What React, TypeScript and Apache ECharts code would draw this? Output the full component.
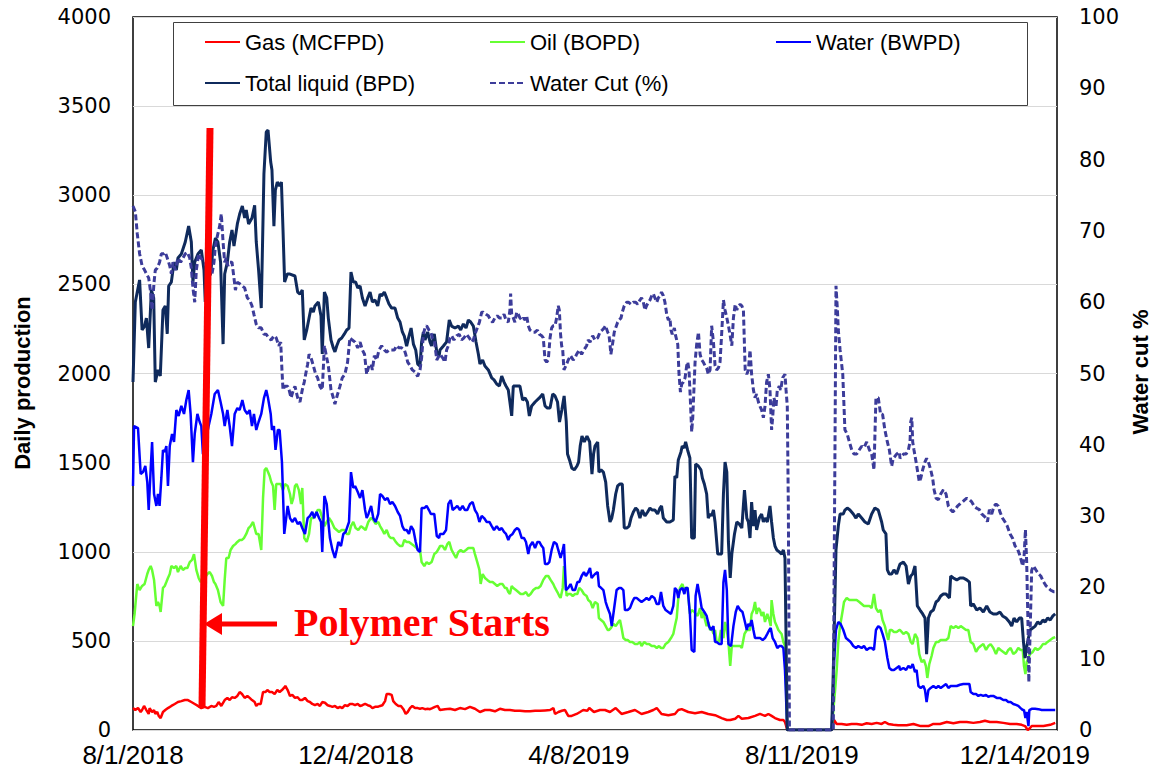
import React, { useEffect, useRef } from "react";
import * as echarts from "echarts";

// x = days since 8/1/2018
const startDate = Date.UTC(2018, 7, 1);
const xMax = 518;
const xInterval = 125;

const legendNames = ["Gas (MCFPD)", "Oil (BOPD)", "Water (BWPD)", "Total liquid (BPD)", "Water Cut (%)"];

const totalLiquid: number[][] = [
[0,1952],[1.3,2401],[3.7,2525],[5.1,2244],[6.5,2266],[7.5,2311],[8.8,2143],[10.3,2468],[11.6,2424],[12.5,1952],[14,2020],[15.3,1986],[16.8,2356],[18.1,2379],[19.2,2222],[20,2491],[21.5,2513],[23,2625],[24.3,2581],[25.2,2648],[27.1,2670],[29.3,2738],[31.2,2827],[32.7,2738],[33.6,2513],[34.6,2625],[36.4,2670],[38.3,2693],[39.8,2581],[40.5,2401],[42,2536],[43.5,2558],[44.8,2693],[46.2,2760],[47.6,2738],[49.1,2625],[50.5,2165],[51.4,2558],[52.9,2625],[54.2,2738],[55.5,2805],[56.6,2715],[58.5,2839],[59.8,2895],[61.3,2940],[62.6,2872],[63.5,2917],[64.8,2839],[66.7,2872],[68.2,2944],[69.1,2738],[70.4,2581],[71.9,2367],[73.4,3119],[74.7,3355],[75.7,3366],[77.2,3186],[77.9,3142],[79,2827],[79.8,3029],[80.9,3074],[82.2,3052],[83.2,3074],[84.1,2805],[85,2513],
[86.5,2558],[88,2558],[90.8,2547],[92.3,2457],[93.6,2446],[94.9,2468],[96,2188],[97.4,2244],[98.7,2311],[99.8,2367],[101.1,2345],[102,2379],[103.9,2401],[105.4,2323],[106.1,2109],[107.3,2457],[108.6,2424],[109.5,2311],[111,2188],[112.3,2143],[113.2,2121],[114.2,2154],[115.5,2188],[117,2199],[118.5,2222],[119.8,2244],[121.1,2255],[122.2,2569],[123.5,2513],[124.8,2513],[126,2480],[127.3,2491],[128.6,2424],[130.1,2379],[131.6,2424],[132.9,2457],[134.2,2401],[135.7,2412],[137.2,2379],[138.5,2446],[139.4,2435],[140.9,2457],[142.2,2424],[143.5,2390],[145,2367],[146.9,2367],[148.4,2311],[149.7,2289],[151,2233],[152.1,2210],[153.4,2154],[154.7,2210],[155.9,2255],[157.2,2165],[158.5,2132],[159.6,2053],[160.9,2042],[161.8,2177],[162.8,2233],[163.7,2188],[165.2,2233],[166.5,2177],[167.4,2154],[168.9,2222],[170.3,2121],[171.6,2098],
[172.1,2132],[174,2154],[175.8,2177],[177.3,2300],[178.6,2266],[180.5,2255],[182.4,2266],[183.7,2244],[185.2,2278],[186.7,2255],[188,2300],[189.3,2289],[190.8,2266],[192.3,2177],[193.6,2109],[194.5,2053],[196,2076],[197.3,2042],[199.2,2020],[201.1,1975],[202.4,1964],[203.9,1941],[205.4,1930],[206.7,1986],[208,1952],[209.1,1930],[210.4,1907],[211.3,1840],[212.3,1762],[213.2,1930],[214.7,1930],[216.9,1930],[218.4,1851],[219.8,1863],[221.1,1840],[222.2,1762],[223.5,1818],[225.4,1840],[227.8,1863],[229.7,1885],[231,1818],[232.3,1806],[233.8,1806],[235.3,1885],[236.6,1874],[238,1840],[239.1,1728],[240.4,1795],[241.7,1874],[242.9,1728],[243.6,1548],[244.7,1515],[246,1470],[247.4,1459],[248.9,1481],[249.8,1503],[250.7,1593],[251.7,1649],[253,1616],[254.5,1649],[256,1616],[257.3,1436],[258.2,1548],
[259,1593],[260.5,1616],[261.2,1447],[262.4,1459],[263.7,1447],[265,1391],[266.1,1257],[267.4,1167],[268.4,1189],[269.3,1234],[270.6,1324],[271.7,1369],[273,1380],[274.3,1380],[275.4,1133],[276.8,1133],[278.1,1144],[279.2,1189],[280.5,1223],[281.8,1245],[282.9,1234],[284.2,1189],[285.5,1234],[287,1201],[288.5,1223],[289.8,1245],[291.1,1234],[292.6,1234],[294.1,1212],[295.4,1245],[296.3,1257],[297.3,1189],[299.2,1167],[301,1167],[302.9,1178],[303.8,1425],[304.8,1414],[305.7,1515],[307.2,1560],[307.9,1593],[309,1582],[309.8,1616],[310.9,1571],[312.2,1526],[313.2,1077],[314.7,1077],[315.4,1492],[316.9,1481],[318.4,1459],[319.2,1414],[320.3,1380],[321.6,1324],[322.5,1189],[323.5,1212],[324.4,1201],[325.4,1234],[326.3,1167],[327.8,987],[330,987],[331,1324],[331.9,1503],[332.9,1447],[333.8,1055],[334.8,853],[335.7,987],[337.2,1100],[338.5,1167],[339.8,1156],[341.3,1133],[342.8,1346],[344.1,1189],[345,1167],
[345.9,1077],[346.8,1279],[347.8,1144],[348.7,1234],[349.6,1122],[351.1,1189],[352.4,1212],[353.4,1167],[354.3,1189],[355.6,1167],[357.1,1257],[358,1167],[359,1077],[359.9,1032],[360.9,1010],[362.3,999],[363.6,987],[364.6,1010],[365.5,965],[366.8,0],[391.7,0],[392.6,337],[394.1,1010],[395.4,1144],[396.4,1212],[398.2,1212],[399.1,1234],[400.4,1245],[401.9,1234],[403.8,1212],[405.3,1189],[406.6,1212],[408.5,1189],[410.3,1167],[412.2,1156],[414.1,1212],[415.9,1245],[417.8,1234],[419.7,1167],[420.6,1122],[422.1,1100],[422.9,898],[424,875],[425.3,875],[426.6,898],[428.1,875],[429.6,920],
[430,931],[431.9,942],[433.4,920],[434.7,819],[436,864],[437.1,875],[438.4,920],[439.7,696],[441.2,673],[442.7,651],[444,628],[444.9,426],[445.9,628],[447.2,662],[448.7,673],[450.2,718],[451.5,729],[452.8,752],[454.3,763],[455.8,763],[457.7,741],[458.4,864],[459.9,853],[461.8,842],[463.6,853],[465.5,853],[467.4,842],[468.9,830],[469.6,696],[471.1,707],[473,673],[474.8,684],[476.7,662],[478.6,696],[480.4,662],[482.3,651],[484.2,651],[486,662],[487.5,640],[489.4,628],[491.3,606],[492.6,583],[493.9,628],[495.4,606],[496.9,628],[498.2,628],[499.2,494],[500.1,404],[501.1,471],[502,516],[502.9,561],[504.4,572],[505.8,583],[507.1,606],[508.6,595],[510.1,617],[511.4,606],[512.7,628],[514.2,617],[515.7,640],[517,651]
];

const water: number[][] = [
[0,1369],[0.6,1705],[2.8,1694],[4.3,1436],[5.6,1447],[6.9,1481],[8,1391],[8.8,1234],[9.9,1459],[10.7,1616],[11.8,1324],[13.1,1257],[14,1324],[14.9,1257],[15.9,1414],[16.8,1571],[17.8,1560],[18.7,1593],[19.6,1369],[20.6,1593],[21.9,1661],[23,1616],[24.3,1795],[25.6,1762],[27.1,1818],[28.6,1773],[29.9,1851],[31.2,1907],[32.3,1773],[33.6,1503],[34.6,1661],[36.1,1773],[37.4,1728],[38.3,1705],[39.2,1548],[40.2,1683],[41.1,1638],[42.4,1705],[43.9,1773],[45.8,1885],[47.6,1907],[49.1,1840],[50.5,1773],[51.4,1705],[52.9,1795],[54.2,1705],[55.5,1593],[57,1773],[58.5,1806],[59.8,1795],[61.3,1851],[62.6,1795],[64.1,1773],[65.4,1795],[66.7,1705],[67.8,1773],[69.1,1683],[70.4,1728],[71.9,1773],[73.4,1862],[74.7,1907],[75.7,1862],[77.2,1773],[77.9,1683],[79,1705],[79.9,1571],[81.2,1683],[82.2,1683],[83.5,1503],[84.1,1324],[84.8,1100],
[86.7,1257],[88,1189],[89.3,1167],[90.8,1189],[92.3,1156],[93.6,1167],[94.9,1133],[96.4,1100],[97.9,1189],[99.2,1201],[100.5,1223],[101.6,1189],[102.9,1223],[104.3,1189],[105.4,1167],[106.1,999],[107.3,1313],[108.6,1268],[109.5,1167],[110.4,1077],[111.8,1010],[113.2,965],[114.2,1010],[115.1,1055],[116.6,1032],[117.9,1100],[119.2,1111],[120.3,1144],[121.1,1167],[122.2,1447],[123.5,1358],[124.5,1369],[126,1335],[127.3,1302],[128.6,1346],[130.1,1234],[131,1189],[132,1212],[133.5,1257],[134.7,1189],[136,1167],[137.5,1212],[138.5,1324],[139.8,1313],[141.3,1290],[142.7,1302],[144.1,1268],[145.4,1279],[146.9,1257],[148.4,1223],[149.7,1201],[151,1144],[152.1,1122],[153.4,1122],[154.7,1100],[155.9,1144],[157.2,1122],[158.5,1055],[159.6,1010],[160.9,999],[161.8,1245],[163.3,1245],[164.6,1257],[165.9,1234],[167,1212],[168.9,1212],[170.3,1088],[171.6,1077],
[172.1,1100],[174,1100],[175.5,1122],[176.8,1268],[178.1,1290],[179.2,1234],[180.5,1245],[181.8,1257],[183.3,1234],[184.8,1257],[186.1,1234],[187.4,1234],[188.9,1268],[190.4,1279],[191.7,1234],[193,1212],[194.2,1167],[195.5,1201],[196.8,1189],[198.3,1167],[199.8,1167],[201.1,1144],[202.4,1122],[203.9,1144],[205.4,1122],[206.7,1133],[208,1111],[209.1,1100],[210.4,1066],[211.3,1088],[212.8,1100],[214.1,1122],[215.4,1133],[216.5,1122],[217.9,1077],[219.2,1077],[220.3,1055],[221.6,987],[222.5,1032],[224,1055],[225.4,1021],[226.7,1055],[227.8,1055],[229.1,1032],[230,1021],[231,931],[232.3,931],[233.4,942],[234.7,1010],[236,1055],[237.5,1043],[238.4,1010],[239.7,965],[240.9,1010],[241.6,1043],[242.7,785],[244,797],[245.3,819],[246.5,785],[247.8,785],[249.1,830],[250.2,830],[251.5,864],[252.8,886],[253.9,864],[255.2,886],[256.2,909],[257.1,853],[258,864],
[259,875],[260.5,886],[261.2,808],[262.4,797],[263.7,785],[265,718],[266.1,684],[267.4,651],[268.4,583],[269.3,651],[270.2,718],[271.1,785],[272.5,797],[273.6,797],[274.9,785],[275.8,673],[277.3,673],[278.6,684],[279.9,718],[281,741],[282.3,741],[283.7,729],[285.1,718],[286.6,729],[287.9,741],[289.3,729],[290.8,752],[292.3,741],[293.6,707],[294.9,707],[296,774],[297.3,696],[298.6,673],[300.1,662],[301.6,651],[302.9,696],[303.8,797],[304.8,785],[305.7,741],[306.6,785],[308,797],[309.1,763],[309.8,797],[310.9,797],[312.2,651],[313.2,449],[314.7,438],[315.4,752],[316.5,819],[317.9,741],[318.8,684],[320.3,662],[321.6,640],[322.9,583],[324,561],[325.4,583],[326.3,494],[327.2,494],[328.5,483],[330,483],[331,830],[331.9,898],[332.9,785],[333.8,483],[335.3,471],[336.6,583],[337.9,662],[339,696],[340.4,673],[341.7,662],[342.8,617],[344.1,561],[345,595],
[345.9,583],[346.8,617],[347.8,561],[348.7,516],[350,516],[351.5,516],[353,505],[354.3,516],[355.6,539],[356.7,561],[357.5,572],[358.6,516],[359.9,494],[361.2,460],[362.3,471],[363.6,471],[364.6,460],[365.5,337],[366.8,0],[391.7,0],[393,381],[394.1,561],[395.4,606],[396.7,595],[398.2,561],[399.7,516],[401,505],[402.3,494],[403.8,471],[405.3,460],[406.6,471],[408.5,460],[409.8,471],[411.3,449],[412.8,460],[414.1,460],[415.4,449],[416.5,561],[417.8,583],[419.1,572],[420.2,539],[421.5,494],[422.9,404],[424,348],[425.3,337],[426.6,337],[428.1,348],[429.6,359],
[430,337],[431.9,348],[433.4,337],[434.7,359],[436,348],[437.1,370],[438.4,325],[439.3,337],[440.3,247],[441.6,236],[443.1,247],[444,224],[444.9,157],[445.9,224],[447.2,236],[448.7,247],[450.2,236],[451.5,247],[452.8,236],[454.3,247],[455.8,258],[457.1,236],[458.4,247],[459.9,247],[461.8,247],[463.6,254],[465.5,258],[467.4,258],[468.9,258],[469.6,213],[471.1,202],[472.6,202],[473.9,191],[475.2,197],[476.7,191],[478.2,197],[479.5,186],[480.8,191],[482.3,191],[484.2,180],[486,180],[487.9,168],[489.4,168],[490.7,157],[492,157],[493.5,146],[495,141],[496.3,135],[497.6,123],[498.8,112],[499.5,112],[500.3,67],[501,101],[502,22],[502.5,112],[503.8,119],[505.7,119],[507.6,117],[509.4,112],[511.3,112],[513.2,112],[515,112],[517,112]
];

const oil: number[][] = [
[0,583],[0.9,651],[2.4,819],[3.7,785],[5.1,808],[6.5,819],[8,875],[8.8,898],[9.9,920],[10.7,898],[11.8,842],[13.1,696],[14,718],[14.9,696],[15.5,662],[16.8,797],[17.8,808],[18.7,830],[19.6,853],[20.6,875],[21.5,920],[23,909],[24.3,920],[25.2,886],[26.7,920],[28,898],[29.3,909],[30.5,909],[31.8,942],[33.1,954],[34.2,987],[35.5,898],[36.8,853],[37.9,830],[39.2,842],[40.2,853],[41.7,875],[43,886],[44.3,864],[45.4,830],[46.2,819],[47.6,785],[49.1,718],[50.5,696],[51.4,842],[52.3,965],[53.6,965],[54.7,1010],[56.1,1032],[57.4,1043],[58.5,1055],[59.8,1066],[61.1,1066],[62.2,1077],[63.5,1100],[64.8,1133],[65.9,1144],[67.3,1167],[68.2,1133],[69.1,1100],[70.4,1100],[71.9,1010],[72.9,1302],[73.8,1459],[74.7,1470],[75.7,1447],[76.6,1425],[77.5,1391],[78.5,1369],[79.4,1234],[80.3,1380],[81.3,1380],[82.8,1380],[84.1,1346],
[85.2,1380],[86.7,1369],[88,1324],[88.9,1268],[89.9,1302],[90.8,1369],[91.7,1380],[93,1346],[94.2,1268],[94.9,1358],[96,1077],[97.4,1055],[98.7,1100],[99.8,1189],[101.1,1189],[102.4,1212],[103.5,1234],[104.8,1234],[106.1,1189],[107.3,1144],[108.6,1167],[109.9,1189],[111.4,1167],[112.9,1133],[114.2,1122],[115.5,1111],[117,1122],[118.5,1122],[119.8,1100],[121.1,1100],[122.2,1144],[123.5,1167],[124.8,1133],[126.3,1122],[127.8,1144],[129.1,1133],[130.4,1122],[131.9,1167],[133.4,1189],[134.7,1178],[136,1156],[137.5,1167],[138.5,1144],[139.8,1122],[140.9,1100],[142.2,1122],[143.5,1088],[144.6,1077],[145.9,1077],[147.3,1055],[148.4,1043],[149.7,1032],[151,1032],[152.1,1066],[153.4,1055],[154.7,1055],[156.2,1043],[157.7,1032],[159,1021],[159.9,1010],[160.9,1010],[161.8,942],[163.3,920],[164.6,942],[165.9,931],[167.4,942],[168.9,987],[170.3,999],[171.6,1021],
[172.1,1032],[173.6,1032],[174.9,1010],[176.2,1043],[177.3,1055],[178.6,1010],[179.9,987],[181.1,965],[182.4,999],[183.7,1010],[185.2,999],[186.7,1010],[188,1021],[189.3,1021],[190.8,1021],[191.7,987],[193,942],[194.2,898],[194.9,819],[196,875],[197.3,853],[198.6,842],[200.1,830],[201.6,830],[202.9,819],[204.2,808],[205.7,819],[207.2,819],[208.5,797],[209.5,797],[210.4,774],[211.3,763],[212.3,808],[213.2,797],[214.7,785],[216,774],[217.3,763],[218.8,763],[220.3,774],[221.6,752],[222.9,763],[224.4,785],[225.9,797],[227.2,797],[228.5,808],[230,842],[231.5,864],[232.8,864],[234.1,842],[235.6,819],[236.6,797],[237.9,774],[239,752],[239.7,741],[240.9,797],[241.6,920],[242.2,853],[243.1,752],[244,763],[245.3,763],[246.5,752],[247.8,763],[249.1,763],[250.2,797],[251.5,785],[252.8,763],[254.3,752],[255.2,729],[256.5,718],[257.7,684],
[259,718],[260.5,707],[261.2,628],[262.4,617],[263.7,606],[265,583],[266.1,561],[266.8,561],[267.9,572],[269.3,595],[270.6,583],[272.1,606],[273,617],[273.9,572],[274.9,516],[276.2,505],[277.3,505],[278.6,494],[279.9,494],[281.4,483],[282.9,483],[284.2,494],[285.1,471],[286.6,494],[287.9,483],[289.3,483],[290.8,471],[292.3,471],[293.6,460],[294.9,471],[296,460],[297.3,460],[298.6,483],[300.1,494],[301.6,516],[302.9,539],[303.8,583],[304.8,628],[305.7,741],[306.6,797],[308,819],[309.1,785],[309.8,797],[310.9,797],[312.2,651],[313.2,673],[314.7,662],[315.4,651],[316.5,640],[317.9,684],[318.8,628],[319.7,662],[320.7,617],[321.6,583],[322.5,606],[323.5,561],[324.4,572],[325.4,539],[326.3,561],[327.2,494],[328.5,494],[329.6,561],[331,516],[331.9,606],[332.9,561],[333.8,494],[334.8,359],[335.7,471],[337.2,471],[338.5,471],[340.4,471],[341.3,460],[342.8,539],[344.1,561],[345,561],
[345.9,561],[346.8,651],[347.8,673],[348.7,718],[349.6,651],[350.6,684],[351.5,673],[352.4,640],[353.4,662],[354.3,606],[355.6,651],[356.7,617],[357.5,583],[358,729],[359,651],[359.9,606],[360.9,583],[361.8,561],[362.7,550],[363.6,539],[364.6,494],[365.5,471],[366.8,0],[391.7,0],[393.6,224],[394.5,337],[395.4,494],[396.4,583],[397.9,673],[398.6,718],[400.1,741],[401.6,729],[402.9,729],[404.2,729],[405.7,729],[407.2,718],[408.5,707],[409.8,696],[411.3,696],[412.8,696],[414.1,684],[415.4,763],[416.5,684],[417.8,662],[419.1,673],[420.2,617],[421.5,583],[422.5,539],[423.4,505],[424.3,561],[425.3,561],[426.6,550],[428.1,550],[429.6,561],
[430,561],[431.9,539],[433.4,550],[434.7,539],[436,494],[437.1,482],[438.4,539],[439.7,516],[440.8,426],[442.1,381],[443.4,393],[444.5,359],[445.3,292],[446.4,370],[447.7,415],[448.7,460],[450.2,494],[451.5,494],[452.8,505],[454.3,505],[455.8,505],[457.1,516],[458.4,583],[459.9,572],[461.4,583],[462.7,572],[464,583],[465.5,572],[467,561],[468.3,561],[469.6,494],[471.1,482],[472.6,438],[473.9,460],[475.2,471],[476.7,482],[478.2,449],[479.5,471],[480.8,482],[482.3,460],[483.8,426],[485.1,460],[486.4,449],[487.9,438],[489.4,426],[490.7,449],[492,460],[493.5,426],[495,438],[496.3,460],[497.6,449],[498.8,449],[499.5,359],[500.3,314],[501,381],[502,404],[502.9,426],[504.4,438],[505.8,460],[507.1,449],[508.6,460],[510.1,482],[511.4,482],[512.7,494],[514.2,505],[515.7,516],[517,521]
];

const gas: number[][] = [
[0,123],[1.3,112],[2.8,123],[4.3,101],[5.1,112],[6.2,135],[7.5,112],[8.8,90],[9.3,123],[10.7,101],[11.8,112],[12.5,90],[13.6,101],[14.4,79],[15.5,67],[16.8,101],[18.1,112],[19.6,123],[21.5,135],[23.4,146],[25.2,157],[27.1,162],[29,168],[30.8,168],[32.7,157],[34.6,146],[36.4,135],[38.3,123],[40.2,130],[42,123],[43.9,135],[45.4,130],[46.7,135],[48,157],[49.5,135],[51.4,168],[52.9,180],[54.2,168],[55.5,184],[57,180],[58.5,191],[59.8,213],[61.1,202],[62.6,180],[64.1,191],[65.4,180],[66.7,168],[68.2,157],[69.1,135],[70.1,146],[71.6,146],[72.9,213],[74.2,213],[75.3,224],[76.6,213],[77.9,213],[79.4,202],[80.9,224],[82.2,213],[83.5,224],[84.6,236],
[85.4,247],[86.7,224],[88,191],[89.3,197],[90.8,180],[92.3,184],[93.6,168],[94.9,168],[96.4,180],[97.9,162],[99.2,157],[100.5,146],[102,139],[103.5,146],[104.8,135],[106.1,157],[107.6,153],[109.1,139],[110.4,135],[111.8,130],[113.2,135],[114.7,123],[116,130],[117.3,123],[118.8,139],[120.3,135],[121.6,146],[122.9,146],[124.5,139],[126,146],[127.3,135],[128.6,139],[130.1,146],[131.6,139],[132.9,135],[134.2,123],[135.7,130],[137.2,130],[138.5,135],[139.8,139],[141.3,162],[142.2,202],[143.5,202],[145,197],[145.9,162],[147.3,146],[148.8,135],[150.2,135],[151.6,117],[152.9,90],[154,101],[155.3,123],[156.6,135],[158.1,123],[159.6,123],[160.9,119],[162.2,123],[163.7,117],[165.2,119],[166.5,117],[167.8,123],[169.3,130],[170.8,135],
[172.1,112],[174.9,117],[177.7,119],[180.5,112],[183.3,123],[186.1,117],[188.9,130],[191.7,119],[194.5,101],[197.3,112],[200.1,112],[202.9,105],[205.7,119],[208.5,112],[211.3,112],[214.1,108],[216.9,108],[219.8,105],[222.6,105],[225.4,108],[228.2,108],[231,110],[233.8,112],[235.7,123],[236.6,90],[238.5,101],[240.4,108],[242.2,112],[244,79],[245.9,79],[248.7,90],[250.6,101],[252.4,112],[254.7,108],[255.8,123],[258.4,101],
[261.8,112],[264.6,112],[267.4,101],[270.6,123],[273.9,90],[277.7,101],[281.4,112],[285.1,90],[288.9,101],[291.7,112],[293.6,123],[296.3,90],[300.1,83],[303.8,90],[305.7,112],[307.6,117],[311.3,101],[315.1,94],[318.8,101],[322.5,90],[326.3,83],[330,67],[332.9,56],[334.8,56],[337.6,63],[339.4,79],[341.3,63],[345,67],
[348.7,79],[351.5,90],[354.3,79],[356.2,90],[358,79],[359.9,67],[362.7,56],[364.6,56],[365.5,45],[366.8,0],[391.7,0],[393,56],[394.5,34],[397.3,34],[400.1,29],[402.9,34],[405.7,34],[408.5,29],[411.3,38],[414.1,34],[416.9,40],[419.7,34],[421.5,45],[423.4,34],[426.2,29],[429,27],
[433.7,27],[437.5,34],[441.6,22],[445.9,22],[448.7,34],[452.4,34],[456.2,45],[459.9,38],[463.6,45],[467.4,45],[471.1,40],[474.8,45],[477.6,52],[480.4,45],[484.2,45],[487.9,40],[491.7,34],[495.4,34],[498.2,29],[500.1,22],[501.6,0],[502.9,11],[503.8,22],[506.6,22],[510.4,22],[514.2,29],[517,40]
];

const waterCut: number[][] = [
[0,73.5],[1.3,72.7],[2.4,69.6],[3.7,66.8],[5.1,65.1],[6.5,64.5],[7.5,64],[8.8,63.4],[9.9,61.4],[10.7,58.9],[11.8,62.8],[12.5,64.5],[13.6,64.8],[14.9,65.6],[15.9,66.8],[17.4,66.8],[18.1,67],[19.2,66.2],[20.6,65.1],[21.5,64],[22.4,65.6],[23.7,64.5],[25.2,66.2],[26.7,65.6],[28,66.2],[29.3,66.8],[30.5,67],[31.8,66.2],[32.7,64.8],[33.6,62],[34.6,60],[35.5,64.5],[36.8,66.8],[37.9,66.2],[39.2,65.9],[40.5,65.6],[41.7,64.5],[43,64.8],[44.3,64],[45.4,65.6],[46.2,67.9],[47.3,69.3],[48.6,70.7],[49.5,72.4],[50.5,68.4],[51.4,65.6],[52.3,66.2],[53.2,65.1],[54.2,65.6],[55.5,65.6],[56.6,63.4],[57.4,61.7],[58.5,62.8],[59.8,62.6],[61.1,62.3],[62.6,62],[64.1,60.6],[65.4,60.3],[66.7,59.5],[67.8,58.3],[69.1,56.9],[70.4,56.4],[71.9,56.4],[73.4,55.5],[74.7,55.5],[76,55],[77.5,54.7],[79,55.3],[80.3,55],[81.7,53.9],[82.8,54.4],[83.5,50.5],[84.1,47.7],[85,48.2],
[86.7,48.2],[87.5,47.7],[88.6,46.6],[89.9,47.7],[90.8,48.2],[92.3,46.6],[93.6,46],[94.9,47.7],[96,48.8],[96.8,49.9],[97.9,51.3],[98.7,52.7],[99.8,52.2],[101.1,51.1],[102.4,49.9],[103.5,49.4],[104.8,48.2],[106.1,47.7],[107.3,53.9],[108.6,52.2],[109.5,51.1],[111,47.7],[112.3,46.6],[113.2,45.7],[114.7,47.1],[116,48.2],[117.3,49.4],[118.8,49.9],[120.3,51.6],[121.6,55],[122.9,54.7],[124.5,54.4],[126,53.6],[127.3,54.4],[128.6,53.3],[129.8,52.7],[131,49.9],[132.3,51.1],[133.5,51.3],[134.2,50.5],[135.3,52.5],[136.6,51.9],[137.9,53.3],[139.4,53.9],[140.9,53.3],[142.2,53],[143.5,53.3],[145,53.3],[146.5,53.3],[147.8,53.9],[149.1,53.6],[150.6,53.6],[152.1,53.3],[152.9,52.7],[154,51.6],[155.3,51.1],[156.6,50.5],[158.1,50.2],[159.6,49.6],[160.9,50.5],[161.8,52.2],[162.8,55.5],[163.7,56.4],[164.6,56.7],[165.9,56.1],[167,55.8],[167.8,55],[168.9,54.7],[170.3,51.9],[171.6,52.5],
[172.1,52.7],[173.6,52.2],[174.9,51.6],[175.8,53.3],[176.8,53.9],[177.7,55],[178.6,55.3],[179.9,54.7],[181.4,55.3],[182.9,55.5],[184.2,54.7],[185.5,55],[187,55.5],[188.5,55],[189.9,54.4],[190.8,54.7],[191.7,55.5],[193,56.4],[194.2,57.2],[195.5,58.6],[196.4,58.6],[197.9,58.3],[199.2,58.1],[200.5,57.5],[201.6,57.2],[202.9,57.8],[204.2,58.1],[205.4,57.8],[206.7,57.8],[208,58.3],[209.1,57.5],[210.4,57.2],[211.3,58.9],[211.7,61.2],[212.3,58.3],[213.2,57.8],[214.1,57.2],[215.1,58.6],[216,58.3],[216.9,57.8],[217.9,57.5],[218.8,57.8],[219.8,57.5],[220.7,58.1],[221.6,56.7],[222.5,56.1],[224,55.8],[225.4,55.8],[226.7,56.1],[227.8,55.5],[229.1,55.3],[230,55],[231,51.9],[231.9,51.6],[232.8,51.9],[233.8,55],[234.7,56.4],[235.6,56.7],[236.6,56.7],[237.5,57.8],[238.4,59.5],[239,58.9],[239.7,55.5],[240.3,53.9],[240.9,53.3],[241.6,50.5],[242.7,51.1],[244,51.9],[245.3,52.5],[246.8,51.9],[247.8,52.2],[248.7,52.7],[250.2,53.3],[251.5,52.7],[252.8,53.3],[254.3,53.9],[255.2,54.7],[256.2,54.4],[257.7,55.3],
[259,54.7],[260.5,55],[261.8,55.8],[263.1,56.1],[264.2,56.4],[264.9,56.7],[266.1,55.8],[266.8,55.5],[267.4,54.1],[267.9,52.7],[268.7,53.9],[269.8,55.8],[270.6,56.4],[271.7,57.2],[272.5,57.5],[273.6,57.8],[274.3,58.6],[275.4,59.5],[276.8,60],[277.7,60],[279.2,59.7],[280.5,60],[281.8,60],[282.9,59.7],[284.2,60.3],[285.1,60.6],[286.1,60],[287,58.9],[287.9,59.5],[288.9,60],[289.8,60.3],[290.8,60.9],[291.7,61.2],[292.6,60.6],[293.6,60],[294.5,60.6],[295.4,60.9],[296.3,61.4],[297.3,60.9],[298.2,60],[299.2,58.3],[300.1,57.5],[301,57.8],[301.6,56.1],[302.3,55.5],[303.5,56.4],[304.2,55.3],[305.4,54.1],[306.1,49.9],[306.9,47.4],[307.6,48.5],[308.5,48.8],[309.5,49.4],[310.4,51.1],[311,51.6],[311.7,50.5],[312.5,46],[313.2,41.8],[313.8,43.8],[314.3,46.8],[315.1,51.6],[316,54.1],[317,55.8],[317.9,52.7],[318.8,51.9],[319.7,51.6],[320.7,51.1],[321.6,50.8],[322.5,49.9],[323.5,50.5],[324.4,56.7],[325.4,54.4],[326.3,51.1],[327.2,50.5],[328.2,50.8],[329.1,51.6],[330,55.5],[331,60.3],[331.9,58.9],[332.9,57.8],[333.8,56.7],[334.8,55.3],[335.7,53.9],[336.6,57.8],[337.6,59.7],[338.5,58.9],[339.4,59.5],[340.4,59.7],[341.3,59.5],[342.2,58.9],[343.2,50.5],[344.1,49.9],[345,50.5],
[345.9,53.3],[346.8,49.9],[347.8,47.7],[348.7,46.6],[349.6,47.1],[350.6,46],[351.5,45.4],[352.4,44.9],[353.4,43.8],[354.3,45.4],[355.2,48.8],[356.2,49.9],[357.1,47.7],[358,42.1],[358.6,43.8],[359.3,46.6],[360.5,45.4],[361.2,47.7],[362.3,48.2],[363.1,47.7],[364.2,49.4],[365.5,49.9],[366.1,47.7],[366.8,45.4],[367.4,30.9],[368,0],[392.6,0],[393,19.6],[393.6,42.1],[394.1,62.3],[394.9,58.9],[395.4,56.1],[396.4,53.3],[397.9,49.9],[399.1,42.1],[400.4,41.5],[401.6,40.4],[402.9,39.3],[404.2,38.7],[405.7,38.7],[407.2,39.3],[408.5,39.8],[409.8,39.6],[411.3,40.4],[412.8,39.3],[414.1,38.7],[415.4,36.5],[416.5,46.6],[417.8,46.6],[419.1,44.3],[420.2,44.3],[421.5,42.1],[422.9,40.4],[424,39.3],[425.3,37],[426.2,38.1],[427.2,38.4],[428.1,38.7],[429.6,39],
[430,38.1],[431.9,38.7],[433.4,38.7],[434.7,39.3],[435.6,40.4],[436,43.2],[436.6,43.8],[437.1,40.4],[437.8,39.3],[439,37.6],[439.7,36.5],[440.8,34.8],[441.6,35.3],[442.7,36.5],[444,37.6],[444.9,38.1],[445.9,37.6],[447.2,36.5],[448.3,35.3],[449.1,33.7],[450.2,32.5],[451.5,32.3],[452.8,33.1],[454.3,33.7],[455.8,33.1],[457.1,31.4],[458.4,30.9],[459.6,30.6],[460.9,30.9],[462.2,31.4],[463.6,31.7],[465.1,32],[466.4,32.3],[467.4,32.5],[468.9,32.3],[470.2,32],[471.5,31.4],[473,31.1],[474.5,30.9],[475.8,30.3],[477.1,30],[478.2,29.7],[479,29.2],[480.1,30.9],[481.4,30.3],[482.7,31.4],[483.8,31.7],[485.1,31.4],[486,30.6],[487.5,29.7],[488.8,29.2],[490.1,28.6],[491.7,27.5],[493.1,26.9],[494.5,25.8],[495.7,25.5],[496.9,24.7],[497.6,24.1],[498.8,23],[499.5,24.1],[500.3,28.1],[501,23.6],[501.8,14],[502.2,6.7],[502.9,13.5],[503.8,22.4],[504.8,23],[506.3,22.4],[507.6,21.9],[508.9,21.6],[510.4,20.8],[511.9,20.2],[513.2,19.9],[514.5,19.6],[516.1,19.4],[517,19.4]
];

function fmtDay(v: number): string {
  const d = new Date(startDate + Math.round(v) * 86400000);
  return `${d.getUTCMonth() + 1}/${d.getUTCDate()}/${d.getUTCFullYear()}`;
}

export default function App() {
  const ref = useRef<HTMLDivElement>(null);
  useEffect(() => {
    if (!ref.current) return;
    const chart = echarts.init(ref.current, null, { renderer: "svg" });
    const tickFont = { fontFamily: "DejaVu Sans", fontSize: 21, color: "#000" };
    const legendText = { fontFamily: "Liberation Sans", fontSize: 22, color: "#000" };
    const mkLegend = (name: string, left: number, top: number) => ({
      data: [name], left, top, itemWidth: 35, itemHeight: 14, padding: 0,
      selectedMode: false, textStyle: legendText, z: 10,
      itemStyle: { opacity: 0 },
    });
    const mkLine = (name: string, data: number[][], color: string, width: number, yAxisIndex = 0, type: any = "solid", z = 2) => ({
      name, type: "line", data, yAxisIndex, symbol: "none", z,
      lineStyle: { color, width, type }, itemStyle: { color },
    });
    chart.setOption({
      animation: false,
      backgroundColor: "#fff",
      grid: { left: 133, right: 101, top: 17, bottom: 51, show: true, borderColor: "#000", borderWidth: 1.5, backgroundColor: "transparent" },
      legend: [
        mkLegend(legendNames[0], 204, 31),
        mkLegend(legendNames[1], 489, 31),
        mkLegend(legendNames[2], 775, 31),
        mkLegend(legendNames[3], 204, 72),
        mkLegend(legendNames[4], 489, 72),
      ],
      xAxis: {
        type: "value", min: 0, max: xMax, interval: xInterval,
        axisLine: { show: false }, axisTick: { show: false }, splitLine: { show: false },
        axisLabel: { formatter: fmtDay, fontFamily: "Liberation Sans", fontSize: 26, color: "#000", margin: 12, showMaxLabel: false, showMinLabel: true },
      },
      yAxis: [
        {
          type: "value", min: 0, max: 4000, interval: 500,
          axisLine: { show: false }, axisTick: { show: false },
          splitLine: { lineStyle: { color: "#d9d9d9", width: 1 } },
          axisLabel: { ...tickFont, margin: 22, formatter: (v: number) => String(v) },
        },
        {
          type: "value", min: 0, max: 100, interval: 10, position: "right",
          axisLine: { show: false }, axisTick: { show: false }, splitLine: { show: false },
          axisLabel: { ...tickFont, margin: 22, formatter: (v: number) => String(v) },
        },
      ],
      series: [
        mkLine(legendNames[0], gas, "#ff0000", 2.5),
        mkLine(legendNames[1], oil, "#66ff33", 2.5),
        mkLine(legendNames[2], water, "#0000ff", 2.5),
        mkLine(legendNames[3], totalLiquid, "#0f2a5c", 3),
        mkLine(legendNames[4], waterCut, "#3c3c9a", 3, 1, [6, 3], 3),
      ],
      graphic: [
        { type: "rect", z: 3, shape: { x: 173.5, y: 22.5, width: 854, height: 83 }, style: { fill: "#fff", stroke: "#404040", lineWidth: 1 } },
        { type: "text", z: 10, x: 22, y: 383, rotation: Math.PI / 2, style: { text: "Daily production", fontFamily: "Liberation Sans", fontWeight: "bold", fontSize: 22, fill: "#000", align: "center", verticalAlign: "middle" } },
        { type: "text", z: 10, x: 1140, y: 372, rotation: Math.PI / 2, style: { text: "Water cut %", fontFamily: "Liberation Sans", fontWeight: "bold", fontSize: 22, fill: "#000", align: "center", verticalAlign: "middle" } },
        { type: "line", z: 100, shape: { x1: 210, y1: 128, x2: 202, y2: 708 }, style: { stroke: "#ff0000", lineWidth: 7 } },
        { type: "line", z: 100, shape: { x1: 277, y1: 624, x2: 218, y2: 624 }, style: { stroke: "#ff0000", lineWidth: 5 } },
        { type: "polygon", z: 100, shape: { points: [[204, 624], [222, 613], [222, 635]] }, style: { fill: "#ff0000" } },
        { type: "text", z: 100, x: 294, y: 622, style: { text: "Polymer Starts", fontFamily: "Liberation Serif", fontWeight: "bold", fontSize: 40, fill: "#ff0000", verticalAlign: "middle" } },
      ],
    });
    return () => chart.dispose();
  }, []);
  return <div ref={ref} style={{ position: "absolute", left: 0, top: 0, width: 1158, height: 781 }} />;
}
